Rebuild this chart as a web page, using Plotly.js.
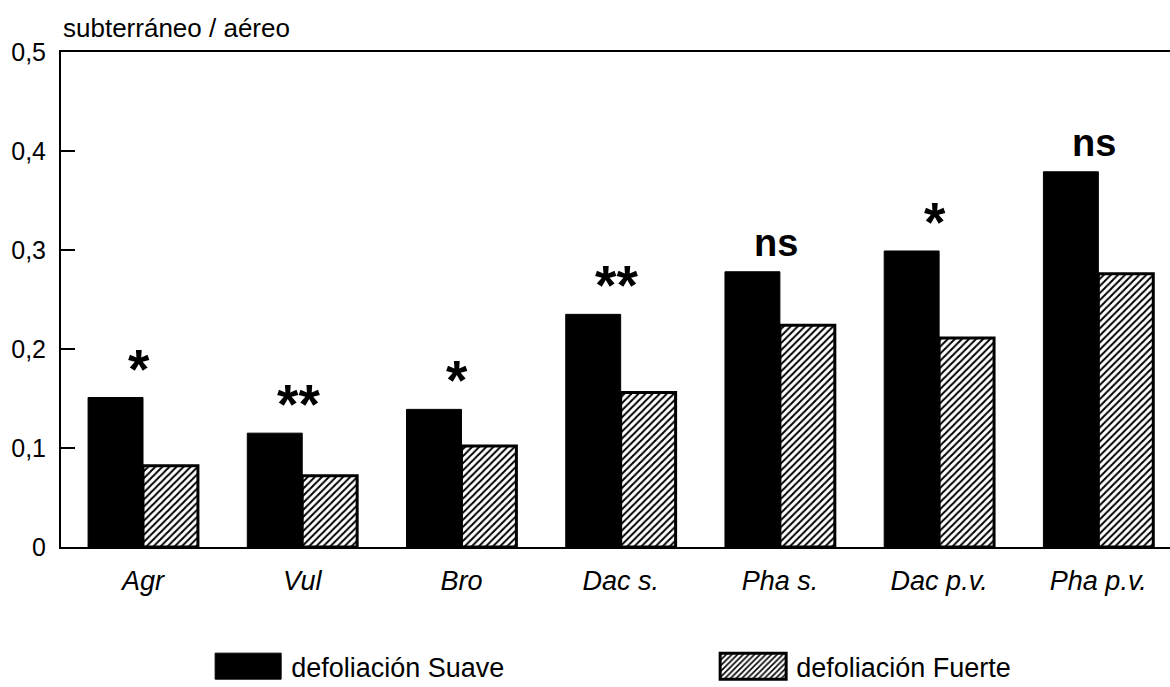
<!DOCTYPE html>
<html>
<head>
<meta charset="utf-8">
<script src="https://cdn.plot.ly/plotly-3.0.1.min.js"></script>
<style>
html,body{margin:0;padding:0;background:#fff;}
#chart{width:1170px;height:687px;}
</style>
</head>
<body>
<div id="chart"></div>
<script>
// ---- data ----
var categories = ['Agr', 'Vul', 'Bro', 'Dac s.', 'Pha s.', 'Dac p.v.', 'Pha p.v.'];
var suave = [0.151, 0.115, 0.139, 0.235, 0.278, 0.299, 0.379];
var fuerte = [0.082, 0.072, 0.102, 0.156, 0.224, 0.211, 0.276];
var significance = ['*', '**', '*', '**', 'ns', '*', 'ns'];
var seriesNames = ['defoliación Suave', 'defoliación Fuerte'];
var yTickVals = [0, 0.1, 0.2, 0.3, 0.4, 0.5];
var yTickText = ['0', '0,1', '0,2', '0,3', '0,4', '0,5'];
var yLabel = 'subterráneo / aéreo';

var FONT = 'Liberation Sans, Arial, Helvetica, sans-serif';

var traces = [
  {
    type: 'bar', name: seriesNames[0], x: categories, y: suave,
    marker: {color: '#000000', line: {color: '#000000', width: 1}},
    hoverinfo: 'skip'
  },
  {
    type: 'bar', name: seriesNames[1], x: categories, y: fuerte,
    marker: {
      color: '#ffffff',
      pattern: {shape: '/', fgcolor: '#000000', bgcolor: '#ffffff', size: 5, solidity: 0.4},
      line: {color: '#000000', width: 3}
    },
    hoverinfo: 'skip'
  }
];

var annotations = categories.map(function (c, i) {
  var isNs = significance[i] === 'ns';
  return {
    x: c, y: suave[i], xref: 'x', yref: 'y',
    text: significance[i], showarrow: false,
    xanchor: 'center', yanchor: 'bottom',
    xshift: -4, yshift: isNs ? 6 : -4,
    font: {family: FONT, size: isNs ? 38 : 55, color: '#000', weight: 'bold'}
  };
});
annotations.push({
  xref: 'paper', yref: 'paper', x: 0, y: 1, xanchor: 'left', yanchor: 'bottom',
  yshift: 7, text: yLabel, showarrow: false,
  font: {family: FONT, size: 26, color: '#000'}
});

var layout = {
  width: 1170, height: 687,
  margin: {l: 61, r: 0, t: 52, b: 140, pad: 0},
  paper_bgcolor: '#fff', plot_bgcolor: '#fff',
  font: {family: FONT, color: '#000'},
  barmode: 'group', bargap: 0.31, bargroupgap: 0,
  showlegend: true,
  legend: {
    orientation: 'h', x: 0.139, xanchor: 'left', y: -0.279, yanchor: 'bottom',
    font: {family: FONT, size: 27, color: '#000'},
    entrywidth: 400, entrywidthmode: 'pixels',
    bgcolor: 'rgba(0,0,0,0)', traceorder: 'normal'
  },
  xaxis: {
    type: 'category', range: [-0.515, 6.45],
    showline: true, linecolor: '#000', linewidth: 2, mirror: true,
    ticks: '', showgrid: false, zeroline: false,
    tickfont: {family: FONT, size: 27, color: '#000', style: 'italic'},
    ticklabelstandoff: 9, fixedrange: true
  },
  yaxis: {
    range: [0, 0.5], showline: true, linecolor: '#000', linewidth: 2,
    ticks: 'inside', ticklen: 14, tickwidth: 1.5, tickcolor: '#000',
    tickvals: yTickVals, ticktext: yTickText,
    showgrid: false, zeroline: false,
    tickfont: {family: FONT, size: 25, color: '#000'},
    ticklabelstandoff: 8, fixedrange: true
  },
  annotations: annotations
};

function parseTranslate(s) {
  var m = /translate\(\s*([-\d.e]+)[ ,]+([-\d.e]+)\s*\)/.exec(s || '');
  return m ? [parseFloat(m[1]), parseFloat(m[2])] : [0, 0];
}

function fixLegend() {
  var gd = document.getElementById('chart');
  var items = gd.querySelectorAll('.legend .traces');
  var first = null;
  items.forEach(function (tr, i) {
    tr.querySelectorAll('.legendpoints path').forEach(function (p) {
      p.setAttribute('d', 'M0,-13H66V13H0Z');
      p.setAttribute('transform', 'translate(0,0)');
    });
    var t = tr.querySelector('.legendtext');
    if (t) t.setAttribute('x', 76);
    var pos = parseTranslate(tr.getAttribute('transform'));
    if (i === 0) first = pos;
    tr.setAttribute('transform', 'translate(' + (first[0] + 505 * i) + ',' + (first[1] + 6) + ')');
  });
  gd.querySelectorAll('.legend .scrollbox').forEach(function (sb) { sb.removeAttribute('clip-path'); });
}

Plotly.newPlot('chart', traces, layout, {displayModeBar: false, staticPlot: true}).then(fixLegend);
</script>
</body>
</html>
